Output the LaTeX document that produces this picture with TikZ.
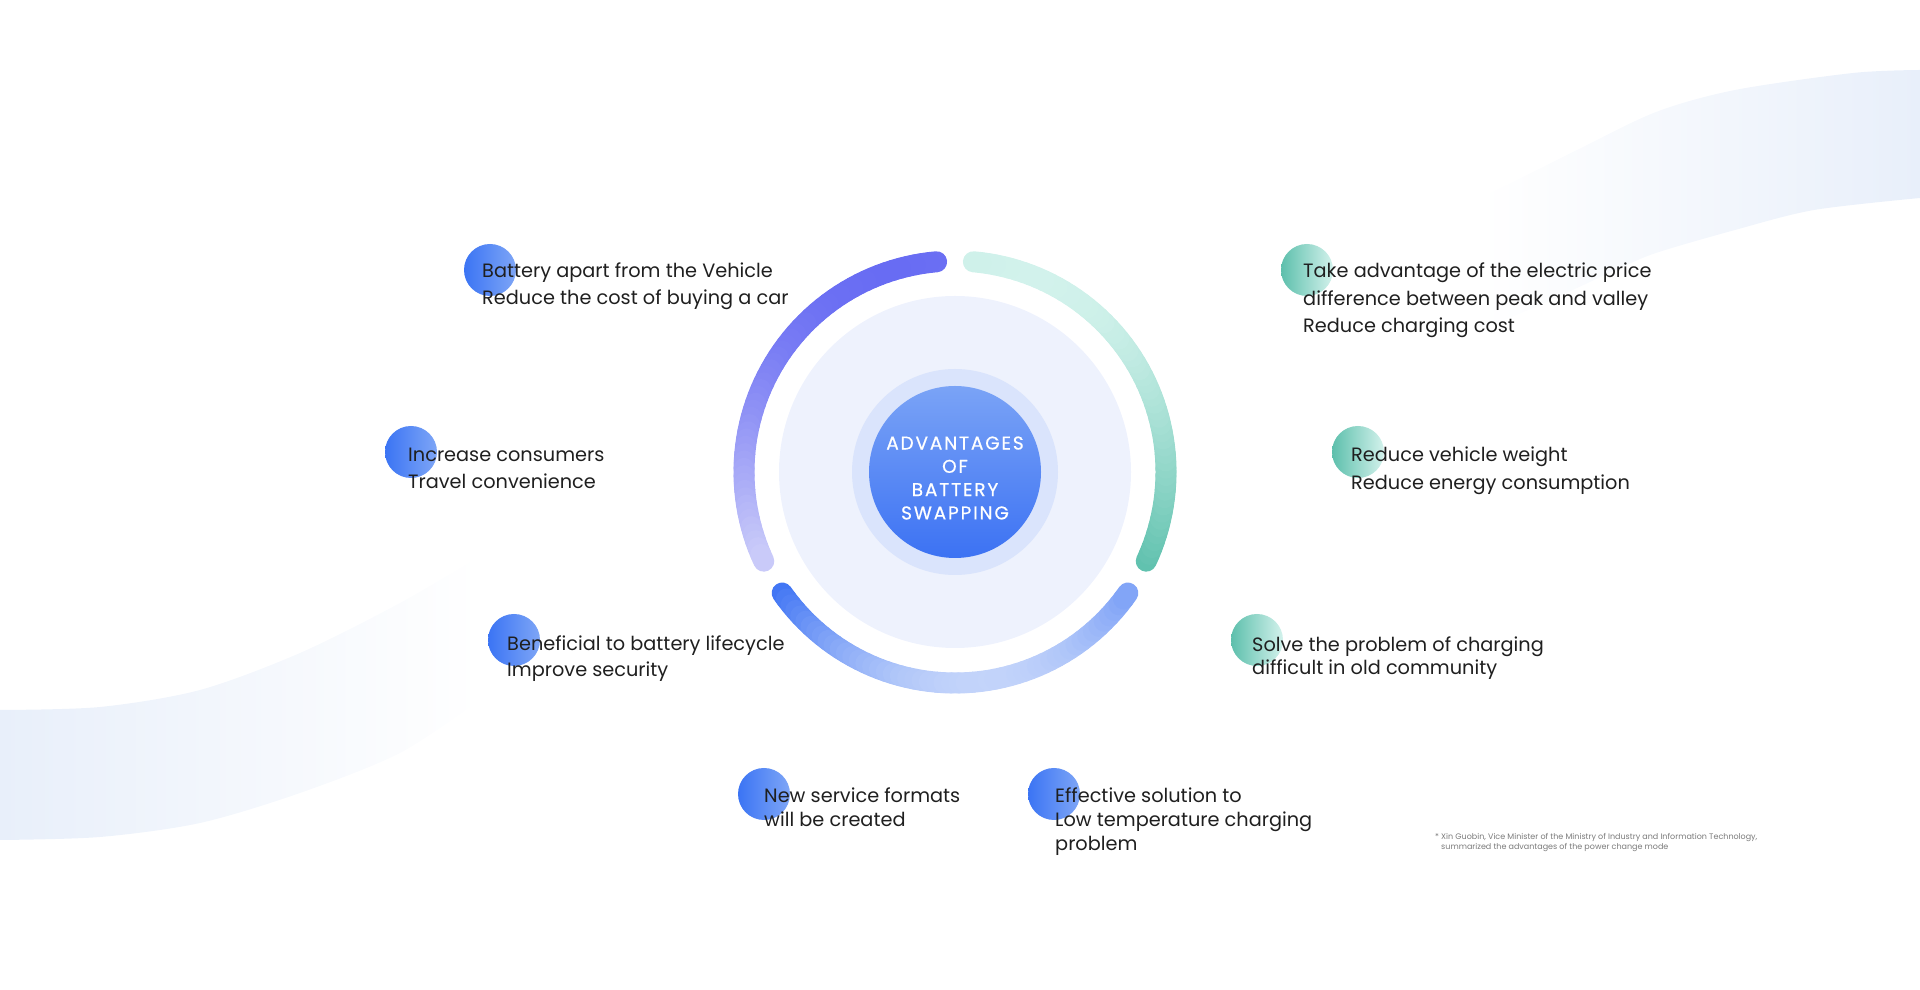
\documentclass[tikz,border=0pt]{standalone}
\usepackage{fontspec}
\setmainfont{Poppins}
\usepackage{xcolor}
\usepackage{tikz}
\usetikzlibrary{shapes,positioning,calc}

\definecolor{bandblue}{HTML}{E8EFFA}
\definecolor{discfill}{HTML}{EEF2FD}
\definecolor{halofill}{HTML}{DAE4FC}
\definecolor{coretop}{HTML}{7AA3F6}
\definecolor{corebot}{HTML}{3C72F3}
\definecolor{purpleD}{HTML}{6B6FF3}
\definecolor{purpleL}{HTML}{CBCCF9}
\definecolor{greenL}{HTML}{CFF1EA}
\definecolor{greenD}{HTML}{5FC1AE}
\definecolor{blueD}{HTML}{3F74F4}
\definecolor{blueL}{HTML}{C3D4FA}
\definecolor{dotblueL}{HTML}{3B74F4}
\definecolor{dotblueR}{HTML}{7EA6F6}
\definecolor{dotgreenL}{HTML}{5DBFAC}
\definecolor{dotgreenR}{HTML}{D3F2EC}
\definecolor{ink}{HTML}{1F1F1F}
\definecolor{notegray}{HTML}{7A7A7A}

% arc from #1 to #2 (deg), colour runs along direction #3, from #4 to #5
\newcommand{\gradarc}[5]{%
  \pgfmathsetmacro\arcca{cos(#1-#3)}
  \pgfmathsetmacro\arccb{cos(#2-#3)}
  \pgfmathsetmacro\arclo{min(\arcca,\arccb)}
  \pgfmathsetmacro\archi{((#3>#1)&&(#3<#2)) ? 1 : max(\arcca,\arccb)}
  \foreach \k in {0,...,54}{
    \pgfmathsetmacro\angA{#1+(#2-#1)*\k/55}
    \pgfmathsetmacro\angB{#1+(#2-#1)*(\k+1)/55}
    \pgfmathtruncatemacro\mixp{100*(cos((\angA+\angB)/2-#3)-\arclo)/(\archi-\arclo)}
    \draw[arcseg, draw=#5!\mixp!#4] (\angA:211) arc[start angle=\angA, end angle=\angB, radius=211];
  }%
}

\begin{document}
\begin{tikzpicture}[x=1pt, y=1pt,
    dot/.style={circle, minimum size=52pt, inner sep=0pt},
    bluedot/.style={dot, left color=dotblueL, right color=dotblueR},
    greendot/.style={dot, left color=dotgreenL, right color=dotgreenR},
    item/.style={anchor=base west, align=left, inner sep=0pt, text=ink, font=\fontsize{19.3}{27}\selectfont},
    arcseg/.style={line width=21pt, line cap=round}]

    \useasboundingbox (0,0) rectangle (1920,990);

    % background swooshes
    \shade[left color=bandblue, middle color=bandblue!55!white, right color=white]
        plot[smooth] coordinates {(0,280) (100,283) (200,300) (300,337) (400,387) (480,434)}
        -- plot[smooth] coordinates {(480,290) (400,237) (300,197) (200,167) (100,153) (0,150)} -- cycle;
    \shade[left color=white, middle color=bandblue!60!white, right color=bandblue]
        plot[smooth] coordinates {(1480,792) (1537,820) (1577,840) (1656,878) (1735,900) (1853,917) (1920,920)}
        -- plot[smooth] coordinates {(1920,792) (1814,780) (1735,760) (1656,737) (1616,720) (1540,685) (1480,660)} -- cycle;

    % centre
    \node [circle, minimum size=352pt, inner sep=0pt, fill=discfill] (disc) at (955,518) {};
    \node [circle, minimum size=206pt, inner sep=0pt, fill=halofill] (halo) at (955,518) {};
    \node [circle, minimum size=172pt, inner sep=0pt, top color=coretop, bottom color=corebot] (core) at (955,518) {};
    \node [align=center, text=white, font=\fontsize{18.5}{23.3}\selectfont\addfontfeature{LetterSpace=10,FakeBold=0.6}] (title) at (955,512) {ADVANTAGES\\OF\\BATTERY\\SWAPPING};

    \begin{scope}[shift={(core.center)}]
        \gradarc{95}{205}{290}{purpleD}{purpleL}
        \gradarc{-25}{85}{250}{greenL}{greenD}
        \gradarc{215}{325}{280}{blueD}{blueL}
    \end{scope}

    % left side (text anchored on its last line)
    \node [bluedot] (d1) at (490,720) {};
    \node [item] (t1) at (482,685) {Battery apart from the Vehicle\\Reduce the cost of buying a car};
    \node [bluedot] (d2) at (411,538) {};
    \node [item] (t2) at (408,501) {Increase consumers\\Travel convenience};
    \node [bluedot] (d3) at (514,350) {};
    \node [item, font=\fontsize{19.3}{26}\selectfont] (t3) at (507,313) {Beneficial to battery lifecycle\\Improve security};
    \node [bluedot] (d4) at (764,196) {};
    \node [item, font=\fontsize{19.3}{23.5}\selectfont] (t4) at (764,163.5) {New service formats\\will be created};
    \node [bluedot] (d5) at (1054,196) {};
    \node [item, font=\fontsize{19.3}{23.7}\selectfont] (t5) at (1055,139.6) {Effective solution to\\Low temperature charging\\problem};

    % right side
    \node [greendot] (g1) at (1307,720) {};
    \node [item, font=\fontsize{19.3}{27.5}\selectfont] (t6) at (1303,657) {Take advantage of the electric price\\difference between peak and valley\\Reduce charging cost};
    \node [greendot] (g2) at (1358,538) {};
    \node [item, font=\fontsize{19.3}{28}\selectfont] (t7) at (1351,500) {Reduce vehicle weight\\Reduce energy consumption};
    \node [greendot] (g3) at (1257,350) {};
    \node [item, font=\fontsize{19.3}{23}\selectfont] (t8) at (1252,315) {Solve the problem of charging\\difficult in old community};

    \node [anchor=base west, align=left, inner sep=0pt, text=notegray, font=\fontsize{8}{10}\selectfont] (note) at (1435,140) {* Xin Guobin, Vice Minister of the Ministry of Industry and Information Technology,\\\phantom{*} summarized the advantages of the power change mode};
\end{tikzpicture}
\end{document}
